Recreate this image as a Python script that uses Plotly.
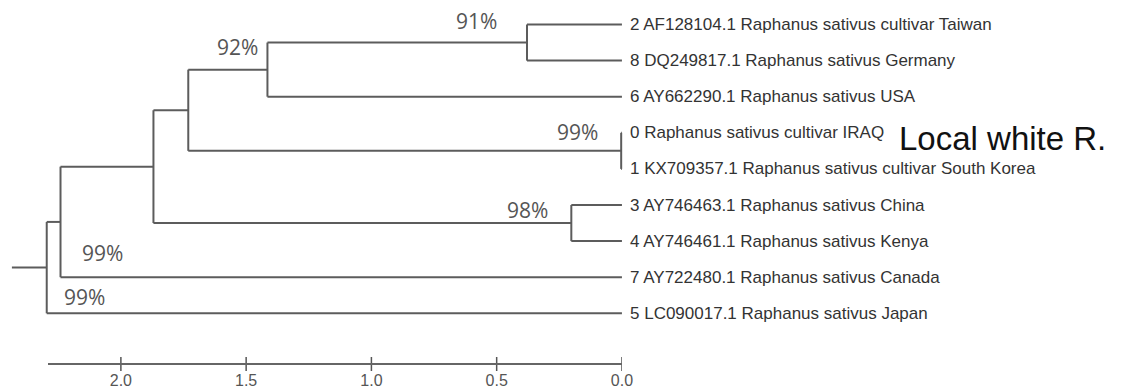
import plotly.graph_objects as go

# ---------------- data ----------------
leaf_labels = [
    "2 AF128104.1 Raphanus sativus cultivar Taiwan",
    "8 DQ249817.1 Raphanus sativus Germany",
    "6 AY662290.1 Raphanus sativus USA",
    "0 Raphanus sativus cultivar IRAQ",
    "1 KX709357.1 Raphanus sativus cultivar South Korea",
    "3 AY746463.1 Raphanus sativus China",
    "4 AY746461.1 Raphanus sativus Kenya",
    "7 AY722480.1 Raphanus sativus Canada",
    "5 LC090017.1 Raphanus sativus Japan",
]
node_names = ["G", "E", "F", "C", "D", "B", "A", "R"]
node_children = [["L0", "L1"], ["G", "L2"], ["L3", "L4"], ["E", "F"],
                 ["L5", "L6"], ["C", "D"], ["B", "L7"], ["A", "L8"]]
node_heights = [0.379, 1.415, 0.003, 1.731, 0.202, 1.870, 2.241, 2.296]
node_support = ["91%", "92%", "99%", "", "98%", "", "99%", "99%"]
root_stub = 2.435
scale_ticks = [2.0, 1.5, 1.0, 0.5, 0.0]
scale_ticktext = ["2.0", "1.5", "1.0", "0.5", "0.0"]
highlight_text = "Local white R."

# ---------------- layout geometry (pixels) ----------------
OFF = 8                      # page body margin of the html page
W, H = 1131 - OFF, 392 - OFF
PX_PER_UNIT = 253.0
X0_PX = 628.0 - OFF          # pixel of distance 0
ROW0_PX, ROW_STEP = 24.5 - OFF, 36.1
AXIS_PX = 364.0 - OFF
SCALE_LEFT_PX = 48.0 - OFF
HIGHLIGHT_PX = 906.0 - OFF

x_range = [X0_PX / PX_PER_UNIT, (X0_PX - W) / PX_PER_UNIT]
y_range = [(H - ROW0_PX) / ROW_STEP, -ROW0_PX / ROW_STEP]

# ---------------- tree coordinates ----------------
pos = {}
for i, _ in enumerate(leaf_labels):
    pos["L%d" % i] = (0.0, float(i))
for name, ch, h in zip(node_names, node_children, node_heights):
    ys = [pos[c][1] for c in ch]
    pos[name] = (h, sum(ys) / len(ys))

xs, ys = [], []
for name, ch in zip(node_names, node_children):
    nx, ny = pos[name]
    cy = [pos[c][1] for c in ch]
    xs += [nx, nx, None]
    ys += [min(cy), max(cy), None]
    for c in ch:
        xs += [nx, pos[c][0], None]
        ys += [pos[c][1], pos[c][1], None]
rx, ry = pos["R"]
xs += [root_stub, rx, None]
ys += [ry, ry, None]

LINE_COL = "#5c5c5c"
fig = go.Figure()
fig.add_trace(go.Scatter(x=xs, y=ys, mode="lines",
                         line=dict(color=LINE_COL, width=2),
                         hoverinfo="skip", showlegend=False))

# scale bar tick marks
axis_val = (AXIS_PX - ROW0_PX) / ROW_STEP
fig.add_trace(go.Scatter(x=scale_ticks, y=[axis_val] * len(scale_ticks),
                         xaxis="x2", yaxis="y", mode="markers",
                         marker=dict(symbol="line-ns", size=10,
                                     line=dict(color="#555", width=1.5)),
                         hoverinfo="skip", showlegend=False))

annotations = []
LEAF_FONT = dict(family="Liberation Sans, Arial, sans-serif", size=17, color="#333")
for i, lab in enumerate(leaf_labels):
    annotations.append(dict(x=0, y=i, xref="x", yref="y", text=lab,
                            showarrow=False, xanchor="left", yanchor="middle",
                            xshift=6, font=LEAF_FONT))

support_style = {
    "G": ("right", -28, 22),
    "E": ("right", -7, 23),
    "F": ("right", -21, 19),
    "D": ("right", -21, 13),
    "A": ("center", 42, -31),
    "R": ("center", 38, -29),
}
SUP_FONT = dict(family="Open Sans, Noto Sans, sans-serif", size=21, color="#555")
for name, sup in zip(node_names, node_support):
    if not sup:
        continue
    xa, xsft, ysft = support_style[name]
    nx, ny = pos[name]
    annotations.append(dict(x=nx, y=ny, xref="x", yref="y", text=sup,
                            showarrow=False, xanchor=xa, yanchor="middle",
                            xshift=xsft, yshift=ysft, font=SUP_FONT))

annotations.append(dict(x=(X0_PX - HIGHLIGHT_PX) / PX_PER_UNIT, y=3, xref="x", yref="y",
                        text=highlight_text, showarrow=False, xanchor="left",
                        yanchor="middle", yshift=-6,
                        font=dict(family="Liberation Sans, Arial, sans-serif",
                                  size=33, color="#111")))

fig.update_layout(
    width=W, height=H,
    margin=dict(l=0, r=0, t=0, b=0),
    paper_bgcolor="white", plot_bgcolor="rgba(0,0,0,0)",
    xaxis=dict(range=x_range, visible=False, domain=[0, 1]),
    yaxis=dict(range=y_range, visible=False, domain=[0, 1]),
    xaxis2=dict(domain=[SCALE_LEFT_PX / W, X0_PX / W],
                range=[(X0_PX - SCALE_LEFT_PX) / PX_PER_UNIT, 0],
                anchor="free", position=1 - AXIS_PX / H,
                showline=True, linecolor="#666", linewidth=2,
                showgrid=False, zeroline=False, ticks="",
                tickvals=scale_ticks, ticktext=scale_ticktext,
                ticklabelstandoff=2,
                tickfont=dict(family="Liberation Sans, Arial, sans-serif",
                              size=16, color="#555")),
    annotations=annotations,
    showlegend=False,
)

fig.write_html("out.html")
